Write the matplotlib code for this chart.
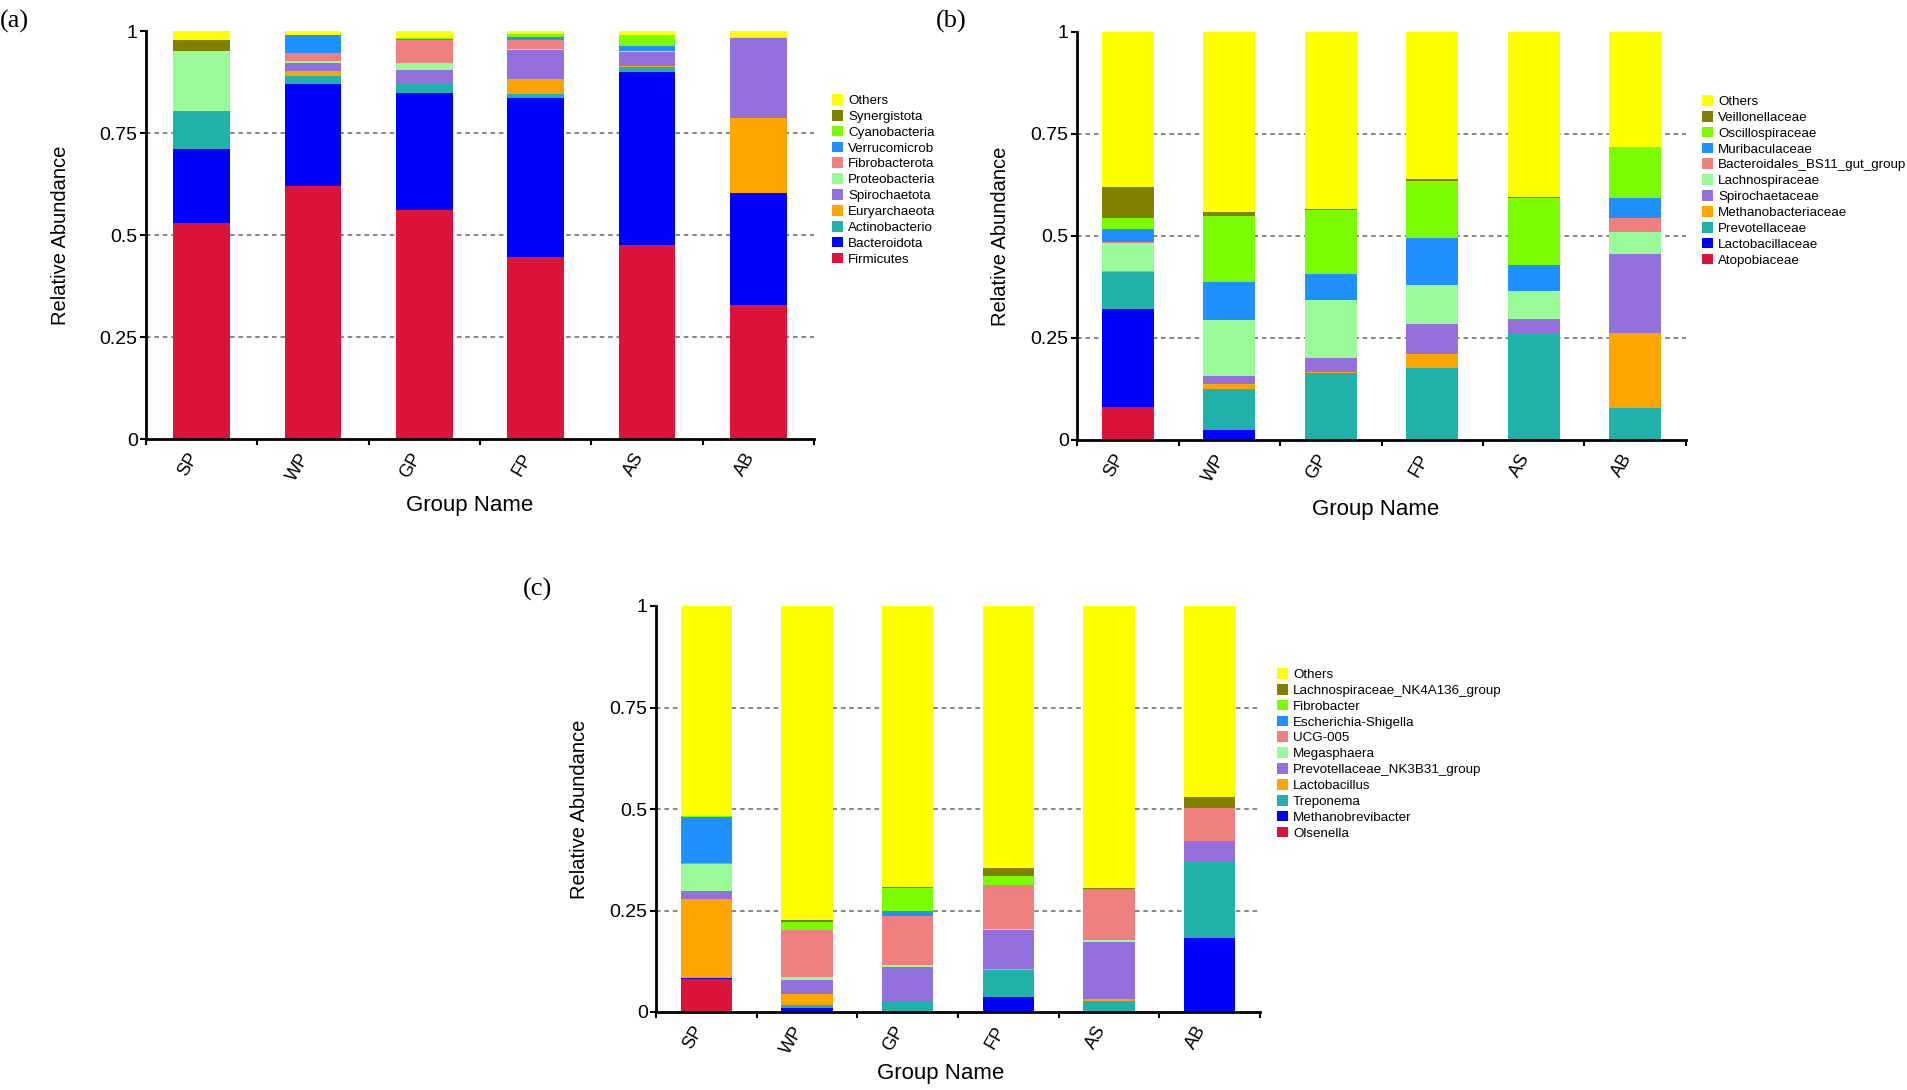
import matplotlib
matplotlib.use("Agg")
import matplotlib.pyplot as plt
from matplotlib.patches import Patch
import numpy as np

groups = ["SP", "WP", "GP", "FP", "AS", "AB"]

# ---- panel (a): phylum level (bottom -> top) ----
a_taxa = ["Firmicutes", "Bacteroidota", "Actinobacterio", "Euryarchaeota", "Spirochaetota",
          "Proteobacteria", "Fibrobacterota", "Verrucomicrob", "Cyanobacteria", "Synergistota", "Others"]
a_firmicutes     = [0.529, 0.619, 0.561, 0.445, 0.475, 0.328]
a_bacteroidota   = [0.183, 0.251, 0.288, 0.392, 0.425, 0.274]
a_actinobacteria = [0.089, 0.020, 0.020, 0.009, 0.012, 0.002]
a_euryarchaeota  = [0.001, 0.013, 0.001, 0.037, 0.001, 0.183]
a_spirochaetota  = [0.002, 0.019, 0.035, 0.071, 0.036, 0.196]
a_proteobacteria = [0.146, 0.004, 0.017, 0.002, 0.002, 0.002]
a_fibrobacterota = [0.000, 0.019, 0.057, 0.021, 0.001, 0.000]
a_verrucomicrob  = [0.000, 0.044, 0.001, 0.009, 0.012, 0.000]
a_cyanobacteria  = [0.000, 0.002, 0.002, 0.006, 0.027, 0.001]
a_synergistota   = [0.029, 0.000, 0.000, 0.000, 0.000, 0.000]
a_others         = [0.021, 0.009, 0.018, 0.008, 0.009, 0.014]

# ---- panel (b): family level ----
b_taxa = ["Atopobiaceae", "Lactobacillaceae", "Prevotellaceae", "Methanobacteriaceae", "Spirochaetaceae",
          "Lachnospiraceae", "Bacteroidales_BS11_gut_group", "Muribaculaceae", "Oscillospiraceae",
          "Veillonellaceae", "Others"]
b_atopobiaceae     = [0.081, 0.000, 0.000, 0.000, 0.000, 0.000]
b_lactobacillaceae = [0.239, 0.024, 0.000, 0.000, 0.003, 0.000]
b_prevotellaceae   = [0.091, 0.101, 0.165, 0.176, 0.256, 0.078]
b_methanobact      = [0.003, 0.012, 0.001, 0.036, 0.000, 0.184]
b_spirochaetaceae  = [0.000, 0.019, 0.036, 0.072, 0.037, 0.194]
b_lachnospiraceae  = [0.070, 0.138, 0.140, 0.097, 0.068, 0.055]
b_bs11             = [0.002, 0.000, 0.000, 0.000, 0.000, 0.033]
b_muribaculaceae   = [0.032, 0.094, 0.065, 0.115, 0.065, 0.050]
b_oscillospiraceae = [0.026, 0.162, 0.156, 0.140, 0.164, 0.124]
b_veillonellaceae  = [0.076, 0.009, 0.004, 0.003, 0.003, 0.000]
b_others           = [0.380, 0.441, 0.433, 0.361, 0.404, 0.282]

# ---- panel (c): genus level ----
c_taxa = ["Olsenella", "Methanobrevibacter", "Treponema", "Lactobacillus", "Prevotellaceae_NK3B31_group",
          "Megasphaera", "UCG-005", "Escherichia-Shigella", "Fibrobacter",
          "Lachnospiraceae_NK4A136_group", "Others"]
c_olsenella     = [0.081, 0.000, 0.000, 0.000, 0.000, 0.000]
c_methanobrevi  = [0.003, 0.009, 0.000, 0.036, 0.000, 0.182]
c_treponema     = [0.000, 0.008, 0.027, 0.067, 0.027, 0.190]
c_lactobacillus = [0.194, 0.027, 0.000, 0.004, 0.005, 0.000]
c_prevo_nk3b31  = [0.021, 0.035, 0.084, 0.094, 0.141, 0.048]
c_megasphaera   = [0.066, 0.008, 0.004, 0.004, 0.004, 0.000]
c_ucg005        = [0.001, 0.114, 0.122, 0.109, 0.125, 0.083]
c_escherichia   = [0.114, 0.000, 0.013, 0.000, 0.000, 0.000]
c_fibrobacter   = [0.003, 0.021, 0.056, 0.021, 0.001, 0.000]
c_lachno_nk4a   = [0.000, 0.004, 0.003, 0.020, 0.002, 0.027]
c_others        = [0.517, 0.774, 0.691, 0.645, 0.695, 0.470]

colors = ["#DC143C", "#0000FF", "#20B2AA", "#FFA500", "#9370DB", "#98FB98",
          "#F08080", "#1E90FF", "#7CFC00", "#808000", "#FFFF00"]

a_values = [a_firmicutes, a_bacteroidota, a_actinobacteria, a_euryarchaeota, a_spirochaetota,
            a_proteobacteria, a_fibrobacterota, a_verrucomicrob, a_cyanobacteria, a_synergistota, a_others]
b_values = [b_atopobiaceae, b_lactobacillaceae, b_prevotellaceae, b_methanobact, b_spirochaetaceae,
            b_lachnospiraceae, b_bs11, b_muribaculaceae, b_oscillospiraceae, b_veillonellaceae, b_others]
c_values = [c_olsenella, c_methanobrevi, c_treponema, c_lactobacillus, c_prevo_nk3b31,
            c_megasphaera, c_ucg005, c_escherichia, c_fibrobacter, c_lachno_nk4a, c_others]

W, H = 1908, 1090
fig = plt.figure(figsize=(W / 100, H / 100), dpi=100)
SANS = ["Liberation Sans", "DejaVu Sans"]
SERIF = ["Liberation Serif", "DejaVu Serif"]
plt.rcParams["font.family"] = SANS


def fx(x):
    return x / W


def fy(y):
    return 1 - y / H


def panel(box, taxa, values, leg_xy, xlab_frac, ylab_px, label, label_xy):
    l, r, t, b = box
    ax = fig.add_axes([fx(l), fy(b), fx(r) - fx(l), fy(t) - fy(b)])
    x = np.arange(len(groups))
    bottom = np.zeros(len(groups))
    for name, vals, col in zip(taxa, values, colors):
        vals = np.array(vals)
        ax.bar(x, vals, 0.51, bottom=bottom, color=col, linewidth=0, zorder=3)
        bottom += vals
    ax.set_xlim(-0.5, 5.5)
    ax.set_ylim(0, 1)
    for yv in (0.25, 0.5, 0.75):
        ax.axhline(yv, color="#666666", lw=1.1, ls=(0, (3, 2.5)), zorder=1)
    for s in ("top", "right"):
        ax.spines[s].set_visible(False)
    for s in ("left", "bottom"):
        ax.spines[s].set_linewidth(2.0)
        ax.spines[s].set_zorder(5)
    ax.set_yticks([0, 0.25, 0.5, 0.75, 1])
    ax.set_yticklabels(["0", "0.25", "0.5", "0.75", "1"])
    ax.tick_params(axis="y", length=4, width=1.5, labelsize=14, pad=2)
    ax.set_xticks(x)
    ax.set_xticklabels(groups, rotation=60, ha="right", rotation_mode="default")
    ax.tick_params(axis="x", which="major", length=0, labelsize=13, pad=8)
    ax.set_xticks(np.arange(-0.5, 6, 1), minor=True)
    ax.tick_params(axis="x", which="minor", length=4, width=1.5)
    ax.text(xlab_frac, -(ylab_px[0]) / (b - t), "Group Name", transform=ax.transAxes,
            ha="center", va="center", fontsize=16)
    ax.text(-(ylab_px[1]) / (r - l), 0.5, "Relative Abundance", transform=ax.transAxes,
            ha="center", va="center", rotation=90, fontsize=14.5)
    handles = [Patch(facecolor=c, edgecolor="none", label=n) for n, c in zip(taxa, colors)]
    fig.legend(handles[::-1], [h.get_label() for h in handles[::-1]],
               loc="upper left", bbox_to_anchor=(fx(leg_xy[0]), fy(leg_xy[1])),
               frameon=False, fontsize=9.6, borderpad=0, borderaxespad=0,
               handlelength=0.85, handleheight=0.85, handletextpad=0.35,
               labelspacing=0.22)
    fig.text(fx(label_xy[0]), fy(label_xy[1]), label, family=SERIF, fontsize=19,
             ha="center", va="center")
    return ax


panel((146, 814, 31, 439), a_taxa, a_values, (832, 94), 0.485, (66, 85), "(a)", (14, 21))
panel((1077, 1686, 32, 440), b_taxa, b_values, (1702, 95), 0.49, (69, 77), "(b)", (951, 21))
panel((656, 1260, 606, 1012), c_taxa, c_values, (1277, 668), 0.472, (61, 76), "(c)", (538, 589))

fig.savefig("out.png", dpi=100)
